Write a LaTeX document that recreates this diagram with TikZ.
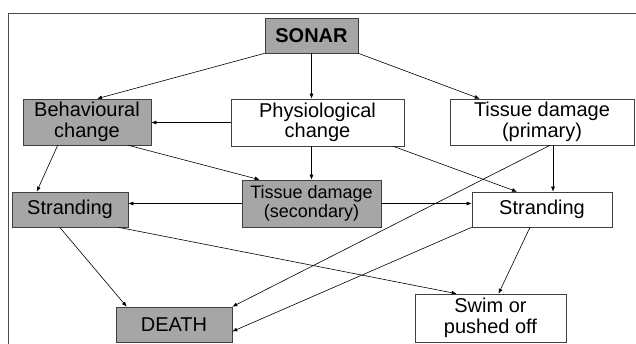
\documentclass[tikz,border=0pt]{standalone}
\usepackage{fontspec}
\setmainfont{Liberation Sans}
\usetikzlibrary{arrows.meta}
\begin{document}
\begin{tikzpicture}[x=1pt, y=-1pt, line width=0.6pt, >={Latex[length=5pt,width=4pt]},
  every node/.style={draw=black!75, align=center, inner sep=0pt, font=\fontsize{20}{20.5}\selectfont},
  grey node/.style={fill=black!35},
  white node/.style={fill=white}]
\useasboundingbox (0,0) rectangle (636,344);
\draw[black!70] (8,344) -- (8,13) -- (636,13);
\node [grey node, minimum width=93pt, minimum height=35pt, font=\fontsize{20}{20}\selectfont\bfseries](sonar) at (311.5,35.5) {SONAR};
\node [grey node, minimum width=128pt, minimum height=46pt](behav) at (87,122) {Behavioural\\change};
\node [white node, minimum width=173pt, minimum height=47pt](physio) at (317.5,122.5) {Physiological\\change};
\node [white node, minimum width=184pt, minimum height=46pt](tprim) at (542,122) {Tissue damage\\(primary)};
\node [grey node, minimum width=116pt, minimum height=35pt](strandL) at (70,209.5) {Stranding};
\node [grey node, minimum width=139pt, minimum height=47pt, font=\fontsize{18}{18.5}\selectfont](tsec) at (311.5,203.5) {Tissue damage\\(secondary)};
\node [white node, minimum width=140pt, minimum height=35pt](strandR) at (542,209.5) {Stranding};
\node [grey node, minimum width=116pt, minimum height=35pt](death) at (174,324.5) {DEATH};
\node [white node, minimum width=151pt, minimum height=48pt](swim) at (490.5,318) {Swim or\\pushed off};
\path [->]
	(sonar.south west) edge ([xshift=10pt]behav.north)
	(sonar.south) edge (sonar.south |- physio.north)
	(sonar.south east) edge ([xshift=30pt]tprim.north west)
	(physio.west) edge (physio.west -| behav.east)
	([xshift=-23pt]behav.south east) edge ([xshift=18pt]tsec.north west)
	([xshift=35pt]behav.south west) edge ([xshift=25pt]strandL.north west)
	(tsec.north |- physio.south) edge (tsec.north)
	([xshift=-11pt]physio.south east) edge ([xshift=-25pt]strandR.north)
	([xshift=11pt]tprim.south) edge ([xshift=11pt]strandR.north)
	(tsec.west) edge (tsec.west -| strandL.east)
	(tsec.east) edge (tsec.east -| strandR.west)
	([xshift=8pt]tprim.south) edge (death.north east)
	(strandR.south west) edge ([yshift=-7pt]death.east)
	([xshift=48pt]strandL.south west) edge ([xshift=11pt]death.north west)
	([xshift=-10pt]strandL.south east) edge ([xshift=42pt]swim.north west)
	([xshift=-12pt]strandR.south) edge ([xshift=8pt]swim.north)
         ;
\end{tikzpicture}
\end{document}
